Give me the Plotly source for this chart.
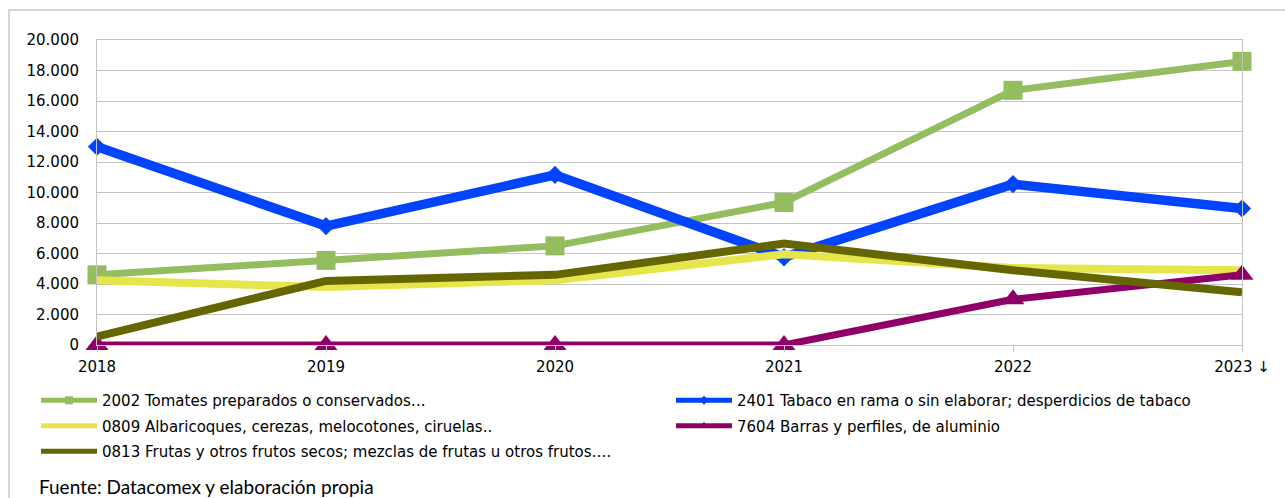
import plotly.graph_objects as go

# Years on the category axis and their printed labels
years = [2018, 2019, 2020, 2021, 2022, 2023]
year_labels = ["2018", "2019", "2020", "2021", "2022", "2023 ↓"]

# Values per product (thousands of euros)
tomates = [4600, 5550, 6500, 9350, 16700, 18600]
tabaco = [13000, 7800, 11150, 5750, 10550, 8950]
albaricoques = [4250, 3800, 4250, 5950, 5050, 4900]
aluminio = [0, 0, 0, 0, 3000, 4600]
frutos_secos = [550, 4200, 4600, 6650, 4900, 3450]

names = [
    "2002 Tomates preparados o conservados…",
    "2401 Tabaco en rama o sin elaborar; desperdicios de tabaco",
    "0809 Albaricoques, cerezas, melocotones, ciruelas..",
    "7604 Barras y perfiles, de aluminio",
    "0813 Frutas y otros frutos secos; mezclas de frutas u otros frutos….",
]
values = [tomates, tabaco, albaricoques, aluminio, frutos_secos]
colors = ["#93bd5e", "#0044ff", "#e6e64c", "#8f0066", "#666600"]
widths = [7, 9.5, 8, 7, 8]
symbols = ["square", "diamond", None, "triangle-up", None]
sizes = [19, 14, 0, 20, 0]
legend_sizes = [8, 7, 0, 8, 0]
# Left column: tomates, albaricoques, frutos secos; right column: tabaco, aluminio
legend_ids = ["legend", "legend2", "legend", "legend2", "legend"]

fig = go.Figure()

for name, vals, col, w, sym, sz in zip(names, values, colors, widths, symbols, sizes):
    mode = "lines+markers" if sym else "lines"
    fig.add_trace(go.Scatter(
        x=years, y=vals, name=name, mode=mode,
        line=dict(color=col, width=w),
        marker=dict(symbol=sym or "circle", size=sz, color=col),
        cliponaxis=False, showlegend=False,
    ))

# Legend entries with compact keys
for i, (name, col, sym, lsz, lid) in enumerate(zip(names, colors, symbols, legend_sizes, legend_ids)):
    mode = "lines+markers" if sym else "lines"
    fig.add_trace(go.Scatter(
        x=[None], y=[None], name=name, mode=mode,
        line=dict(color=col, width=5),
        marker=dict(symbol=sym or "circle", size=lsz, color=col),
        showlegend=True, legend=lid, legendgroup=f"g{i}",
    ))

L, R, T, B = 97, 43, 40, 153
W, H = 1285, 498
pw = W - L - R
ph = H - T - B


def px_x(p):
    return (p - L) / pw


def px_y(p):
    return (H - B - p) / ph


grid = "#c4c4c4"
legend_font = dict(family="DejaVu Sans", size=15, color="black")
legend_common = dict(
    orientation="v", xanchor="left", yanchor="top",
    itemwidth=56, font=legend_font,
    bgcolor="rgba(0,0,0,0)", tracegroupgap=3,
)

fig.update_layout(
    width=W, height=H,
    margin=dict(l=L, r=R, t=T, b=B, autoexpand=False),
    paper_bgcolor="white", plot_bgcolor="white",
    separators=",.",
    font=dict(family="DejaVu Sans", size=15, color="black"),
    showlegend=True,
    legend=dict(x=px_x(36), y=px_y(384), **legend_common),
    legend2=dict(x=px_x(671), y=px_y(384), **legend_common),
    xaxis=dict(
        range=[2018, 2023], tickvals=years, ticktext=year_labels,
        showgrid=False, zeroline=False,
        showline=True, linecolor=grid, linewidth=1, mirror=True,
        ticks="outside", ticklen=6, tickcolor=grid,
        ticklabelstandoff=2,
        tickfont=dict(family="DejaVu Sans", size=15, color="black"),
    ),
    yaxis=dict(
        range=[0, 20000], dtick=2000, tickformat=",d",
        showgrid=True, gridcolor=grid, gridwidth=1, zeroline=False,
        showline=True, linecolor=grid, linewidth=1, mirror=True,
        ticks="", ticklabelstandoff=14,
        tickfont=dict(family="DejaVu Sans", size=15, color="black"),
    ),
    shapes=[dict(
        type="rect", xref="paper", yref="paper",
        x0=px_x(9), x1=px_x(1300), y0=px_y(520), y1=px_y(10),
        line=dict(color="#c8c8c8", width=1.5), fillcolor="rgba(0,0,0,0)",
        layer="below",
    )],
    annotations=[dict(
        text="Fuente: Datacomex y elaboración propia",
        xref="paper", yref="paper", x=px_x(37), y=px_y(486),
        xanchor="left", yanchor="middle", showarrow=False,
        font=dict(family="Lato", size=19, color="black"),
    )],
)

fig.write_html("out.html")
